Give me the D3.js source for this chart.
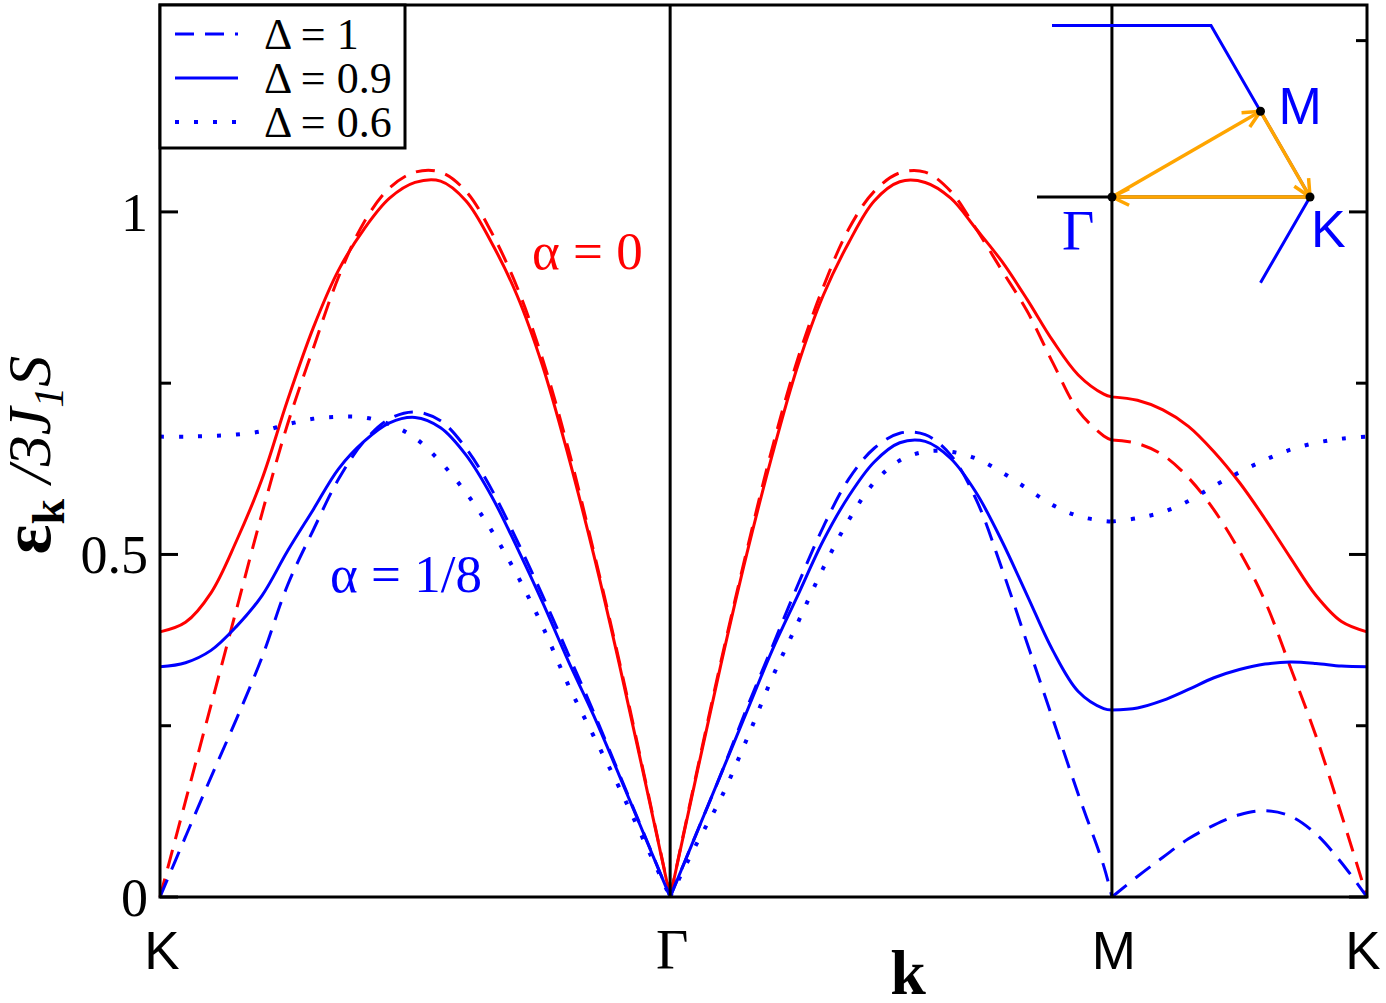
<!DOCTYPE html>
<html>
<head>
<meta charset="utf-8">
<script src="https://cdn.jsdelivr.net/npm/d3@7"></script>
<style>
  body { margin: 0; background: #fff; }
  svg { display: block; }
  .serif { font-family: "Liberation Serif", "DejaVu Serif", serif; }
  .sans { font-family: "Liberation Sans", Arial, sans-serif; }
</style>
</head>
<body>
<svg id="chart" width="1386" height="1003"></svg>
<script>
// path coordinate: K=0, Γ=1, M=1.866, K=2.366 (|ΓK| = 1)
const kGrid = [0, 0.05, 0.1, 0.15, 0.2, 0.25, 0.3, 0.35, 0.4, 0.45, 0.5, 0.55, 0.6, 0.65, 0.7, 0.75, 0.8, 0.85, 0.9, 0.95, 1,
  1.05, 1.1, 1.15, 1.2, 1.25, 1.3, 1.35, 1.4, 1.45, 1.5, 1.55, 1.6, 1.65, 1.7, 1.75, 1.8, 1.85, 1.866,
  1.916, 1.966, 2.016, 2.066, 2.116, 2.166, 2.216, 2.266, 2.316, 2.366];
const segBreaks = [[0, 20], [20, 38], [38, 48]];
const pathTicks = [0, 1, 1.866, 2.366];
const pathLabels = ["K", "Γ", "M", "K"];
const yTicksMajor = [0, 0.5, 1];
const yTicksMinor = [0.25, 0.75, 1.25];

// alpha = 0
const redDelta1 = [0, 0.14, 0.28, 0.42, 0.56, 0.69, 0.80, 0.905, 0.985, 1.035, 1.058, 1.058, 1.03, 0.97, 0.89, 0.785, 0.655, 0.505, 0.345, 0.175, 0,
  0.175, 0.345, 0.505, 0.655, 0.785, 0.89, 0.975, 1.03, 1.057, 1.058, 1.03, 0.975, 0.915, 0.855, 0.78, 0.71, 0.673, 0.667,
  0.662, 0.645, 0.612, 0.565, 0.505, 0.432, 0.335, 0.235, 0.12, 0];
const redDelta09 = [0.387, 0.401, 0.444, 0.52, 0.61, 0.725, 0.83, 0.915, 0.975, 1.02, 1.043, 1.045, 1.016, 0.955, 0.878, 0.775, 0.645, 0.50, 0.341, 0.172, 0,
  0.172, 0.341, 0.50, 0.645, 0.775, 0.878, 0.955, 1.016, 1.044, 1.043, 1.02, 0.975, 0.928, 0.872, 0.812, 0.762, 0.734, 0.73,
  0.725, 0.711, 0.687, 0.65, 0.605, 0.552, 0.495, 0.44, 0.402, 0.387];
// alpha = 1/8
const blueDelta1 = [0, 0.088, 0.175, 0.26, 0.35, 0.455, 0.535, 0.61, 0.665, 0.698, 0.708, 0.695, 0.655, 0.595, 0.52, 0.44, 0.355, 0.27, 0.18, 0.09, 0,
  0.09, 0.18, 0.275, 0.365, 0.455, 0.54, 0.61, 0.655, 0.677, 0.675, 0.645, 0.58, 0.48, 0.37, 0.26, 0.15, 0.045, 0,
  0.03, 0.058, 0.085, 0.105, 0.12, 0.126, 0.118, 0.092, 0.05, 0];
const blueDelta09 = [0.336, 0.342, 0.36, 0.395, 0.44, 0.505, 0.565, 0.625, 0.665, 0.692, 0.700, 0.685, 0.645, 0.585, 0.51, 0.43, 0.345, 0.265, 0.178, 0.089, 0,
  0.09, 0.18, 0.27, 0.36, 0.44, 0.52, 0.585, 0.635, 0.663, 0.665, 0.64, 0.59, 0.52, 0.44, 0.36, 0.30, 0.275, 0.273,
  0.276, 0.287, 0.303, 0.32, 0.332, 0.34, 0.343, 0.341, 0.337, 0.336];
const blueDelta06 = [0.672, 0.672, 0.673, 0.675, 0.68, 0.69, 0.698, 0.701, 0.70, 0.69, 0.67, 0.635, 0.59, 0.535, 0.47, 0.395, 0.31, 0.235, 0.16, 0.08, 0,
  0.075, 0.145, 0.23, 0.32, 0.40, 0.48, 0.55, 0.605, 0.637, 0.65, 0.65, 0.64, 0.62, 0.596, 0.572, 0.556, 0.549, 0.548,
  0.553, 0.562, 0.578, 0.6, 0.62, 0.638, 0.653, 0.663, 0.669, 0.672];

const RED = "#ff0000", BLUE = "#0000ff", ORANGE = "#ffa500";
const DASH = "19 11", DOT = "4 15";

const series = [
  { values: redDelta1, color: RED, dash: DASH },
  { values: redDelta09, color: RED, dash: null },
  { values: blueDelta1, color: BLUE, dash: DASH },
  { values: blueDelta09, color: BLUE, dash: null },
  { values: blueDelta06, color: BLUE, dash: DOT }
];
const legendItems = [
  { label: "Δ = 1", dash: DASH },
  { label: "Δ = 0.9", dash: null },
  { label: "Δ = 0.6", dash: DOT }
];

(() => {
  const svg = d3.select("#chart");
  const pl = 160, pr = 1367, pt = 5, pb = 897;

  const x = d3.scaleLinear().domain([0, 2.366]).range([pl, pr]);
  const y = d3.scaleLinear().domain([0, 1.302]).range([pb, pt]);

  const line = d3.line()
    .x(d => x(d[0]))
    .y(d => y(d[1]))
    .curve(d3.curveCatmullRom.alpha(0.5));

  const curves = svg.append("g");
  series.forEach(s => {
    const d = segBreaks.map(([a, b]) => {
      const pts = d3.range(a, b + 1).map(i => [kGrid[i], s.values[i]]);
      return line(pts);
    }).join("");
    curves.append("path")
      .attr("d", d)
      .attr("fill", "none")
      .attr("stroke", s.color)
      .attr("stroke-width", s.dash === DOT ? 4 : 3)
      .attr("stroke-dasharray", s.dash);
  });

  // high-symmetry vertical lines
  svg.append("g").selectAll("line")
    .data(pathTicks.slice(1, 3))
    .join("line")
    .attr("x1", d => x(d)).attr("x2", d => x(d))
    .attr("y1", pt).attr("y2", pb)
    .attr("stroke", "#000").attr("stroke-width", 3);

  // inward ticks on left and right
  const ticks = svg.append("g");
  const tickData = yTicksMajor.map(v => ({ v, len: 18 })).concat(yTicksMinor.map(v => ({ v, len: 11 })));
  tickData.forEach(t => {
    ticks.append("line").attr("x1", pl).attr("x2", pl + t.len)
      .attr("y1", y(t.v)).attr("y2", y(t.v)).attr("stroke", "#000").attr("stroke-width", 3);
    ticks.append("line").attr("x1", pr).attr("x2", pr - t.len)
      .attr("y1", y(t.v)).attr("y2", y(t.v)).attr("stroke", "#000").attr("stroke-width", 3);
  });

  // frame
  svg.append("rect")
    .attr("x", pl).attr("y", pt)
    .attr("width", pr - pl).attr("height", pb - pt)
    .attr("fill", "none").attr("stroke", "#000").attr("stroke-width", 3);

  // y tick labels
  svg.append("g").selectAll("text")
    .data(yTicksMajor)
    .join("text")
    .attr("class", "serif")
    .attr("x", 148)
    .attr("y", d => y(d))
    .attr("dy", "0.35em")
    .attr("text-anchor", "end")
    .attr("font-size", 54)
    .text(d3.format("~g"));

  // x tick labels
  svg.append("g").selectAll("text")
    .data(pathTicks)
    .join("text")
    .attr("class", (d, i) => pathLabels[i] === "Γ" ? "serif" : "sans")
    .attr("x", (d, i) => x(d) + (i === 3 ? -4 : 2))
    .attr("y", 969)
    .attr("text-anchor", "middle")
    .attr("font-size", (d, i) => pathLabels[i] === "Γ" ? 56 : 53)
    .text((d, i) => pathLabels[i]);

  // axis titles
  svg.append("text")
    .attr("class", "serif")
    .attr("x", 908).attr("y", 994)
    .attr("text-anchor", "middle")
    .attr("font-size", 64).attr("font-weight", "bold")
    .text("k");

  const yTitle = svg.append("text")
    .attr("class", "serif")
    .attr("transform", "translate(50,455) rotate(-90)")
    .attr("text-anchor", "middle")
    .attr("font-size", 62);
  yTitle.append("tspan").attr("font-weight", "bold").attr("font-size", 70).text("ε");
  yTitle.append("tspan").attr("font-weight", "bold").attr("font-size", 46).attr("dy", 14).text("k");
  yTitle.append("tspan").attr("font-style", "italic").attr("dy", -14).text(" /3J");
  yTitle.append("tspan").attr("font-style", "italic").attr("font-size", 42).attr("dy", 13).text("1");
  yTitle.append("tspan").attr("font-style", "italic").attr("dy", -13).text("S");

  // curve annotations
  svg.append("text").attr("class", "serif")
    .attr("x", 532).attr("y", 269).attr("font-size", 53).attr("fill", RED)
    .text("α = 0");
  svg.append("text").attr("class", "serif")
    .attr("x", 330).attr("y", 592).attr("font-size", 53).attr("fill", BLUE)
    .text("α = 1/8");

  // legend
  const legend = svg.append("g");
  legend.append("rect")
    .attr("x", pl).attr("y", pt)
    .attr("width", 245).attr("height", 143)
    .attr("fill", "#fff").attr("stroke", "#000").attr("stroke-width", 3);
  legendItems.forEach((item, i) => {
    const ly = 34 + i * 44;
    legend.append("line")
      .attr("x1", 175).attr("x2", 238)
      .attr("y1", ly).attr("y2", ly)
      .attr("stroke", BLUE)
      .attr("stroke-width", item.dash === DOT ? 4 : 3)
      .attr("stroke-dasharray", item.dash);
    legend.append("text").attr("class", "serif")
      .attr("x", 264).attr("y", ly + 15)
      .attr("font-size", 44)
      .text(item.label);
  });

  // Brillouin-zone inset
  const inset = svg.append("g").attr("transform", "translate(1112,197)");
  const R = 198;
  const hexPt = a => [R * Math.cos(a * Math.PI / 180), -R * Math.sin(a * Math.PI / 180)];
  const vTop = hexPt(60), vK = hexPt(0), vBot = hexPt(-60);
  const gPt = [0, 0], mPt = [(vTop[0] + vK[0]) / 2, (vTop[1] + vK[1]) / 2], kPt = vK;

  inset.append("line").attr("x1", -75).attr("x2", kPt[0])
    .attr("y1", 0).attr("y2", 0).attr("stroke", "#000").attr("stroke-width", 3);

  inset.append("path")
    .attr("d", d3.line()([[-60, vTop[1]], vTop, vK, [vK[0] + (vBot[0] - vK[0]) * 0.5, vK[1] + (vBot[1] - vK[1]) * 0.5]]))
    .attr("fill", "none").attr("stroke", BLUE).attr("stroke-width", 3);

  function arrow(from, to) {
    const ang = Math.atan2(to[1] - from[1], to[0] - from[0]);
    inset.append("line")
      .attr("x1", from[0]).attr("y1", from[1]).attr("x2", to[0]).attr("y2", to[1])
      .attr("stroke", ORANGE).attr("stroke-width", 3.5);
    const h = 19, spread = 0.45;
    const p1 = [to[0] - h * Math.cos(ang - spread), to[1] - h * Math.sin(ang - spread)];
    const p2 = [to[0] - h * Math.cos(ang + spread), to[1] - h * Math.sin(ang + spread)];
    inset.append("path")
      .attr("d", d3.line()([p1, to, p2]))
      .attr("fill", "none").attr("stroke", ORANGE).attr("stroke-width", 3.5);
  }
  arrow(gPt, mPt);
  arrow(mPt, kPt);
  arrow(kPt, gPt);

  inset.selectAll("circle")
    .data([gPt, mPt, kPt])
    .join("circle")
    .attr("cx", d => d[0]).attr("cy", d => d[1]).attr("r", 4.5).attr("fill", "#000");

  inset.append("text").attr("class", "sans")
    .attr("x", mPt[0] + 18).attr("y", mPt[1] + 13).attr("font-size", 52).attr("fill", BLUE).text("M");
  inset.append("text").attr("class", "sans")
    .attr("x", kPt[0] + 1).attr("y", 50).attr("font-size", 52).attr("fill", BLUE).text("K");
  inset.append("text").attr("class", "serif")
    .attr("x", -50).attr("y", 53).attr("font-size", 56).attr("fill", BLUE).text("Γ");
})();
</script>
</body>
</html>
